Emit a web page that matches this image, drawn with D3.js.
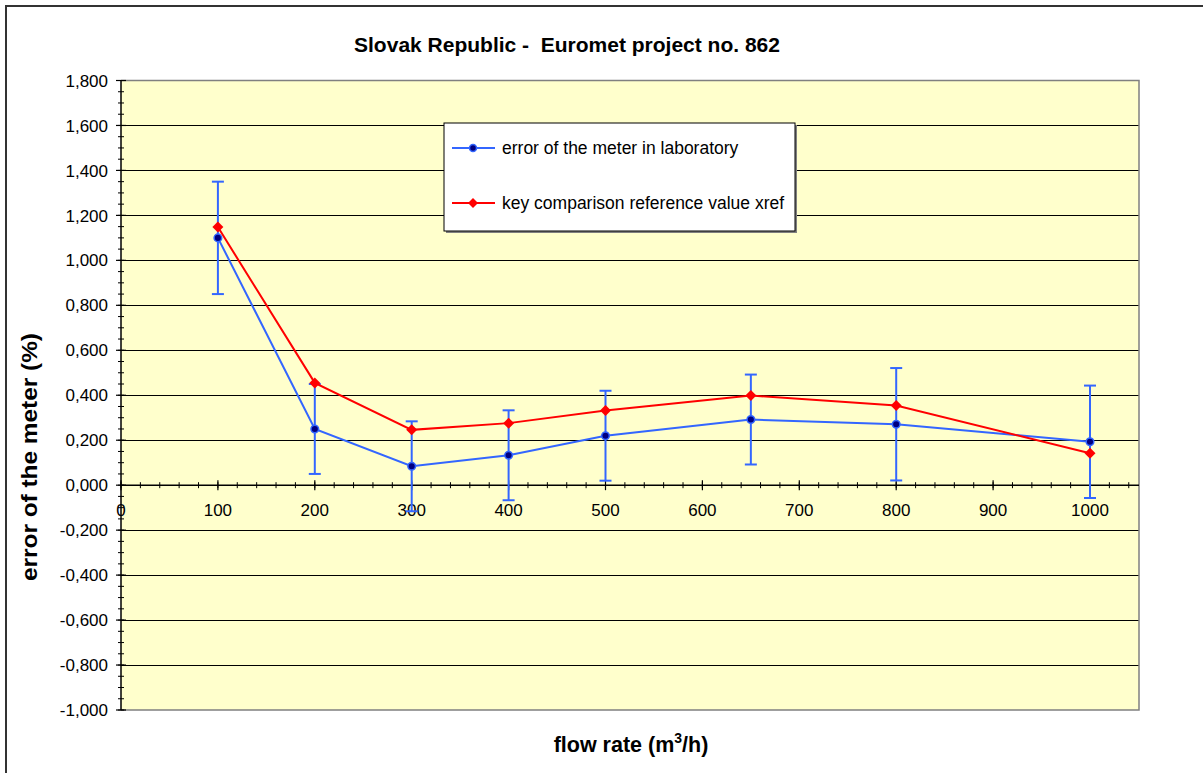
<!DOCTYPE html>
<html>
<head>
<meta charset="utf-8">
<script src="https://cdn.jsdelivr.net/npm/d3@7"></script>
<style>
html,body{margin:0;padding:0;background:#fff;}
svg{display:block;font-family:"Liberation Sans",Arial,sans-serif;}
</style>
</head>
<body>
<svg id="chart" width="1203" height="773"></svg>
<script>
const title = "Slovak Republic -  Euromet project no. 862";
const flowRates = [100, 200, 300, 400, 500, 650, 800, 1000];
const meterError = [1.10, 0.25, 0.084, 0.133, 0.22, 0.292, 0.271, 0.193];
const meterUncertainty = [0.25, 0.20, 0.20, 0.20, 0.20, 0.20, 0.25, 0.25];
const xrefValue = [1.148, 0.455, 0.246, 0.276, 0.332, 0.399, 0.354, 0.142];
const xTicks = [0, 100, 200, 300, 400, 500, 600, 700, 800, 900, 1000];
const yTicks = [-1.0, -0.8, -0.6, -0.4, -0.2, 0, 0.2, 0.4, 0.6, 0.8, 1.0, 1.2, 1.4, 1.6, 1.8];
const seriesNames = ["error of the meter in laboratory", "key comparison reference value xref"];

const svg = d3.select("#chart");
const L = 121, R = 1139, T = 80.5, B = 710;
const x = d3.scaleLinear().domain([0, 1050]).range([L, L + 969 * 1.05]);
const y = d3.scaleLinear().domain([-1, 1.8]).range([B, T]);
const fmtY = v => {
  const s = d3.format(",.3f")(Math.abs(v)).replace(".", "#").replace(",", ".").replace("#", ",");
  return (v < -1e-9 ? "-" : "") + s.replace(".", ",");
};

// outer border
svg.append("rect").attr("x", 6).attr("y", 6).attr("width", 1300).attr("height", 1000)
  .attr("fill", "none").attr("stroke", "#333").attr("stroke-width", 2);

// plot background
svg.append("rect").attr("x", L).attr("y", T).attr("width", R - L).attr("height", B - T)
  .attr("fill", "#FFFFCC");

// gridlines
svg.append("g").selectAll("line").data(yTicks.filter(v => v > -1 && v < 1.8 && Math.abs(v) > 1e-9)).join("line")
  .attr("x1", L).attr("x2", R).attr("y1", d => Math.round(y(d)) + 0.5).attr("y2", d => Math.round(y(d)) + 0.5)
  .attr("stroke", "#000").attr("stroke-width", 1);

// plot border (top, right, bottom)
svg.append("path")
  .attr("d", `M${L},${T}H${R}V${B}H${L}`)
  .attr("fill", "none").attr("stroke", "#808080").attr("stroke-width", 1.5);

// y axis
const yMinor = d3.range(-1, 1.8001, 0.05);
const gy = svg.append("g");
gy.append("line").attr("x1", L).attr("x2", L).attr("y1", T).attr("y2", B).attr("stroke", "#000").attr("stroke-width", 1.5);
gy.selectAll("line.minor").data(yMinor).join("line").attr("class", "minor")
  .attr("x1", L - 3).attr("x2", L + 3).attr("y1", d => y(d)).attr("y2", d => y(d))
  .attr("stroke", "#000").attr("stroke-width", 1);
gy.selectAll("line.major").data(yTicks).join("line").attr("class", "major")
  .attr("x1", L - 5).attr("x2", L + 5).attr("y1", d => y(d)).attr("y2", d => y(d))
  .attr("stroke", "#000").attr("stroke-width", 1.2);
gy.selectAll("text").data(yTicks).join("text")
  .attr("x", 108).attr("y", d => y(d)).attr("dy", "0.36em")
  .attr("text-anchor", "end").attr("font-size", 17).attr("fill", "#000")
  .text(d => fmtY(d));

// x axis at y=0
const y0 = y(0);
const xMinor = d3.range(0, 1050.001, 20);
const gx = svg.append("g");
gx.append("line").attr("x1", L).attr("x2", R).attr("y1", y0).attr("y2", y0).attr("stroke", "#000").attr("stroke-width", 1.5);
gx.selectAll("line.minor").data(xMinor).join("line").attr("class", "minor")
  .attr("x1", d => x(d)).attr("x2", d => x(d)).attr("y1", y0 - 3).attr("y2", y0 + 3)
  .attr("stroke", "#000").attr("stroke-width", 1);
gx.selectAll("line.major").data(xTicks).join("line").attr("class", "major")
  .attr("x1", d => x(d)).attr("x2", d => x(d)).attr("y1", y0 - 5).attr("y2", y0 + 5)
  .attr("stroke", "#000").attr("stroke-width", 1.2);
gx.selectAll("text").data(xTicks).join("text")
  .attr("x", d => x(d)).attr("y", 516)
  .attr("text-anchor", "middle").attr("font-size", 17).attr("fill", "#000")
  .text(d => d);

const blue = "#3366FF", red = "#FF0000";
const bluePts = flowRates.map((f, i) => ({f, v: meterError[i], u: meterUncertainty[i]}));
const redPts = flowRates.map((f, i) => ({f, v: xrefValue[i]}));
const line = d3.line().x(d => x(d.f)).y(d => y(d.v));

// error bars
const eb = svg.append("g").attr("stroke", blue).attr("stroke-width", 2).attr("fill", "none");
bluePts.forEach(d => {
  const cx = x(d.f), y1 = y(d.v + d.u), y2 = y(d.v - d.u);
  eb.append("line").attr("x1", cx).attr("x2", cx).attr("y1", y1).attr("y2", y2);
  eb.append("line").attr("x1", cx - 6).attr("x2", cx + 6).attr("y1", y1).attr("y2", y1);
  eb.append("line").attr("x1", cx - 6).attr("x2", cx + 6).attr("y1", y2).attr("y2", y2);
});

// series lines
svg.append("path").datum(bluePts).attr("d", line).attr("fill", "none").attr("stroke", blue).attr("stroke-width", 2);
svg.append("path").datum(redPts).attr("d", line).attr("fill", "none").attr("stroke", red).attr("stroke-width", 2);

const diamond = (cx, cy, r) => `M${cx},${cy - r}L${cx + r},${cy}L${cx},${cy + r}L${cx - r},${cy}Z`;
svg.append("g").selectAll("path").data(redPts).join("path")
  .attr("d", d => diamond(x(d.f), y(d.v), 5.5)).attr("fill", red);
svg.append("g").selectAll("circle").data(bluePts).join("circle")
  .attr("cx", d => x(d.f)).attr("cy", d => y(d.v)).attr("r", 3.8)
  .attr("fill", "#000080").attr("stroke", blue).attr("stroke-width", 1.5);

// legend
const lg = svg.append("g");
lg.append("rect").attr("x", 446).attr("y", 125).attr("width", 351).attr("height", 108).attr("fill", "#808080");
lg.append("rect").attr("x", 444).attr("y", 123).attr("width", 351).attr("height", 108)
  .attr("fill", "#fff").attr("stroke", "#000").attr("stroke-width", 1);
const rows = [148, 203];
lg.append("line").attr("x1", 452).attr("x2", 495).attr("y1", rows[0]).attr("y2", rows[0]).attr("stroke", blue).attr("stroke-width", 2);
lg.append("circle").attr("cx", 473).attr("cy", rows[0]).attr("r", 3.5).attr("fill", "#000080").attr("stroke", blue).attr("stroke-width", 1.5);
lg.append("line").attr("x1", 452).attr("x2", 495).attr("y1", rows[1]).attr("y2", rows[1]).attr("stroke", red).attr("stroke-width", 2);
lg.append("path").attr("d", diamond(473, rows[1], 5)).attr("fill", red);
lg.selectAll("text").data(seriesNames).join("text")
  .attr("x", 502).attr("y", (d, i) => rows[i]).attr("dy", "0.36em")
  .attr("font-size", 17.5).attr("fill", "#000").text(d => d);

// titles
svg.append("text").attr("x", 567).attr("y", 52).attr("text-anchor", "middle")
  .attr("font-size", 21).attr("font-weight", "bold").attr("fill", "#000")
  .style("white-space", "pre").text(title);
const xt = svg.append("text").attr("x", 631).attr("y", 752).attr("text-anchor", "middle")
  .attr("font-size", 21.5).attr("font-weight", "bold").attr("fill", "#000");
xt.append("tspan").text("flow rate (m");
xt.append("tspan").attr("dy", -9).attr("font-size", 14).text("3");
xt.append("tspan").attr("dy", 9).text("/h)");
svg.append("text").attr("transform", `translate(37,457) rotate(-90)`)
  .attr("text-anchor", "middle").attr("font-size", 22).attr("font-weight", "bold").attr("fill", "#000")
  .attr("textLength", 248).attr("lengthAdjust", "spacingAndGlyphs")
  .text("error of the meter (%)");
</script>
</body>
</html>
